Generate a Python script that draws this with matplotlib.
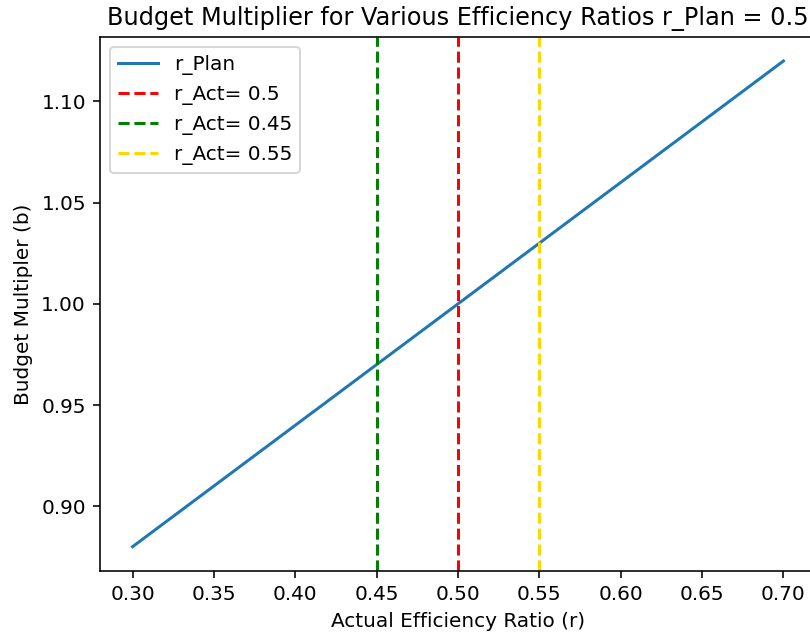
import matplotlib
matplotlib.use("Agg")
import matplotlib.pyplot as plt

# Data
r_values = [0.30, 0.40, 0.50, 0.60, 0.70]
b_values = [0.88, 0.94, 1.00, 1.06, 1.12]
act_ratios = [0.5, 0.45, 0.55]
act_colors = ["red", "green", "gold"]
act_labels = ["r_Act= 0.5", "r_Act= 0.45", "r_Act= 0.55"]

DPI = 144
fig = plt.figure(figsize=(810 / DPI, 636 / DPI), dpi=DPI)
W, H = 810, 636
left_px, right_px, top_px, bottom_px = 100, 816, 36.7, 571
ax = fig.add_axes([left_px / W, 1 - bottom_px / H,
                   (right_px - left_px) / W, (bottom_px - top_px) / H])

ax.plot(r_values, b_values, label="r_Plan")
for r, c, lab in zip(act_ratios, act_colors, act_labels):
    ax.axvline(r, color=c, linestyle="--", label=lab)

ax.set_xlim(0.28, 0.72)
ax.set_ylim(0.868, 1.132)
ax.set_xticks([0.30, 0.35, 0.40, 0.45, 0.50, 0.55, 0.60, 0.65, 0.70])
ax.set_yticks([0.90, 0.95, 1.00, 1.05, 1.10])
ax.set_xlabel("Actual Efficiency Ratio (r)")
ax.set_ylabel("Budget Multipler (b)")
ax.set_title("Budget Multiplier for Various Efficiency Ratios r_Plan = 0.5")
ax.legend(loc="upper left")

fig.savefig("out.png", dpi=DPI)
